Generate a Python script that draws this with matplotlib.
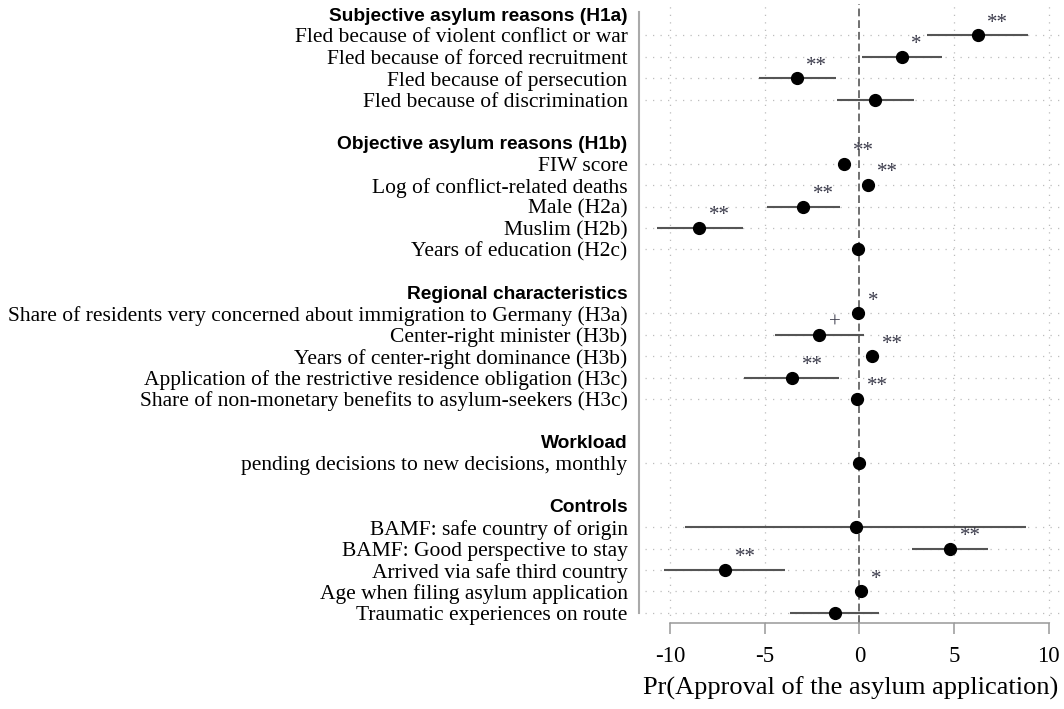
import matplotlib
matplotlib.use("Agg")
from matplotlib import pyplot as plt

# section headers and how many items fall under each
headers = ["Subjective asylum reasons (H1a)", "Objective asylum reasons (H1b)",
           "Regional characteristics", "Workload", "Controls"]
group_sizes = [4, 5, 5, 1, 5]

labels = [
    "Fled because of violent conflict or war",
    "Fled because of forced recruitment",
    "Fled because of persecution",
    "Fled because of discrimination",
    "FIW score",
    "Log of conflict-related deaths",
    "Male (H2a)",
    "Muslim (H2b)",
    "Years of education (H2c)",
    "Share of residents very concerned about immigration to Germany (H3a)",
    "Center-right minister (H3b)",
    "Years of center-right dominance (H3b)",
    "Application of the restrictive residence obligation (H3c)",
    "Share of non-monetary benefits to asylum-seekers (H3c)",
    "pending decisions to new decisions, monthly",
    "BAMF: safe country of origin",
    "BAMF: Good perspective to stay",
    "Arrived via safe third country",
    "Age when filing asylum application",
    "Traumatic experiences on route",
]
coef = [6.25, 2.24, -3.31, 0.83,
        -0.83, 0.44, -2.96, -8.45, -0.07,
        -0.07, -2.11, 0.67, -3.57, -0.12,
        -0.03,
        -0.19, 4.81, -7.11, 0.11, -1.30]
ci_lo = [3.58, 0.13, -5.31, -1.19,
         -1.0, 0.3, -4.86, -10.7, -0.15,
         -0.2, -4.44, 0.5, -6.07, -0.25,
         -0.1,
         -9.19, 2.77, -10.35, 0.0, -3.66]
ci_hi = [8.93, 4.37, -1.25, 2.87,
         -0.65, 0.58, -1.00, -6.14, 0.0,
         0.05, 0.26, 0.8, -1.06, 0.0,
         0.05,
         8.79, 6.82, -3.91, 0.22, 1.02]
stars = ["**", "*", "**", "",
         "**", "**", "**", "**", "",
         "*", "+", "**", "**", "**",
         "",
         "", "**", "**", "*", ""]

serif = "Liberation Serif"
sans = "Liberation Sans"

# slot positions: header, items, blank line
ticklabels = []
header_slots = []
item_slots = []
slot = 0
k = 0
for h, n in zip(headers, group_sizes):
    header_slots.append(slot)
    ticklabels.append(h)
    slot += 1
    for i in range(n):
        item_slots.append(slot)
        ticklabels.append(labels[k])
        k += 1
        slot += 1
    ticklabels.append("")
    slot += 1
ticklabels = ticklabels[:-1]
slots = list(range(len(ticklabels)))

fig = plt.figure(figsize=(10.64, 7.09), dpi=100)
ax = fig.add_axes([0.6003, 0.122, 0.3978, 0.8724])
ax.set_xlim(-11.66, 10.71)
ax.set_ylim(28.45, -0.47)

# grid
ax.hlines(item_slots, -11.32, 10.6, colors="#bdbdbd", linewidth=0.9,
          linestyles=(0, (1, 5)), zorder=0)
for t in [-10, -5, 5, 10]:
    ax.axvline(t, color="#bdbdbd", linewidth=0.9, linestyle=(0, (1, 5)), zorder=0)
ax.axvline(0, color="#707070", linewidth=1.4, linestyle=(0, (4, 2)), zorder=1)

# confidence intervals and point estimates
ax.hlines(item_slots, ci_lo, ci_hi, colors="#555555", linewidth=1.5, zorder=2)
ax.plot(coef, item_slots, "o", color="black", markersize=8.5, zorder=3)

for c, y, s in zip(coef, item_slots, stars):
    if s:
        ax.annotate(s, (c, y), xytext=(7, 5.5), textcoords="offset points",
                    ha="left", va="baseline", fontsize=15, family=serif,
                    color="#3a3a4a")

# axes styling
ax.set_yticks(slots)
ax.set_yticklabels(ticklabels)
for i, lab in enumerate(ax.get_yticklabels()):
    if i in header_slots:
        lab.set_family(sans)
        lab.set_fontweight("bold")
        lab.set_fontsize(13.8)
    else:
        lab.set_family(serif)
        lab.set_fontsize(15.5)
ax.tick_params(axis="y", length=0, pad=8)

ax.set_xticks([-10, -5, 0, 5, 10])
ax.set_xticklabels(["-10", "-5", "0", "5", "10"], family=serif, fontsize=16.5)
ax.tick_params(axis="x", length=8, width=1.1, color="#999999", pad=9)
ax.set_xlabel("Pr(Approval of the asylum application)", family=serif,
              fontsize=19, labelpad=7)

for side in ["top", "right"]:
    ax.spines[side].set_visible(False)
ax.spines["left"].set_color("#aaaaaa")
ax.spines["left"].set_linewidth(1.5)
ax.spines["left"].set_bounds(28.0, -0.09)
ax.spines["bottom"].set_color("#999999")
ax.spines["bottom"].set_linewidth(1.1)
ax.spines["bottom"].set_bounds(-10, 10)

fig.savefig("out.png", dpi=100)
